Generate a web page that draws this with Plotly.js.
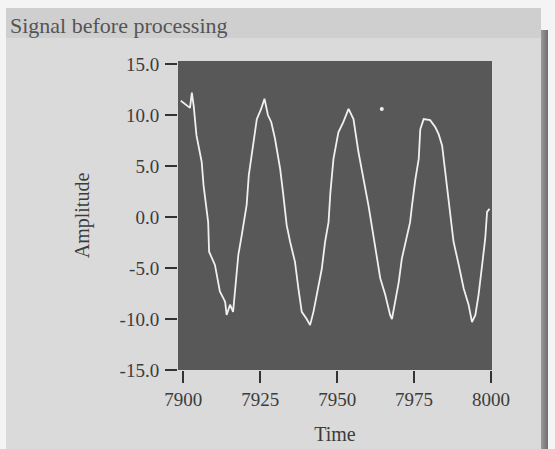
<!DOCTYPE html>
<html>
<head>
<meta charset="utf-8">
<script src="https://cdn.plot.ly/plotly-3.0.1.min.js"></script>
<style>
  html, body { margin: 0; padding: 0; background: #ffffff; }
  #wrap { position: relative; width: 555px; height: 449px; overflow: hidden; background: #f4f4f4; }
  #panel { position: absolute; left: 6px; top: 8px; width: 535px; height: 441px; background: #dadada; }
  #band { position: absolute; left: 6px; top: 8px; width: 535px; height: 30px; background: #cfcfcf; }
  #edge { position: absolute; left: 541px; top: 30px; width: 7px; height: 419px; background: linear-gradient(to right, #9a9a9a, #6e6e6e); }
  #chart { position: absolute; left: 0; top: 0; width: 555px; height: 449px; }
</style>
</head>
<body>
<div id="wrap">
  <div id="panel"></div>
  <div id="band"></div>
  <div id="edge"></div>
  <div id="chart"></div>
</div>
<script>
// Signal samples
const time = [7899.2, 7901.0, 7902.2, 7902.8, 7903.4, 7904.3, 7906.0, 7906.6, 7907.6, 7908.1,
  7908.4, 7910.3, 7911.9, 7913.6, 7914.1, 7915.2, 7916.2, 7916.8, 7917.9, 7919.0,
  7920.0, 7920.6, 7921.3, 7922.8, 7923.9, 7925.3, 7926.4, 7927.5, 7928.6, 7929.8,
  7931.5, 7932.5, 7933.6, 7934.7, 7936.3, 7937.4, 7938.5, 7940.1, 7941.2, 7942.3,
  7943.9, 7945.0, 7946.1, 7947.2, 7947.8, 7948.8, 7950.4, 7952.0, 7953.7, 7955.3,
  7956.9, 7958.6, 7960.2, 7961.6, 7962.4, 7964.0, 7965.6, 7967.2, 7967.8, 7968.9,
  7970.0, 7971.0, 7972.7, 7973.7, 7974.3, 7975.4, 7976.5, 7977.0, 7978.1, 7980.2,
  7981.9, 7983.0, 7984.1, 7985.1, 7986.2, 7987.3, 7987.8, 7989.5, 7991.1, 7992.7,
  7993.8, 7994.9, 7995.9, 7997.1, 7998.1, 7998.7, 7999.5];
const amplitude = [11.4, 11.0, 10.7, 12.2, 10.9, 8.0, 5.4, 3.1, 0.8, -0.5,
  -3.4, -4.7, -7.3, -8.3, -9.6, -8.6, -9.3, -7.0, -3.7, -1.8,
  0.2, 1.2, 4.1, 7.3, 9.6, 10.6, 11.6, 10.0, 9.3, 7.7,
  4.7, 2.2, -0.8, -2.4, -4.4, -7.0, -9.3, -10.0, -10.6, -9.3,
  -7.0, -5.1, -2.4, -0.5, 2.4, 5.7, 8.3, 9.3, 10.6, 9.6,
  6.4, 3.7, 1.1, -1.5, -3.1, -6.0, -7.6, -9.6, -10.0, -8.3,
  -6.4, -4.1, -1.8, -0.5, 1.1, 3.7, 5.7, 8.6, 9.6, 9.5,
  8.8, 8.1, 7.0, 4.4, 1.5, -1.5, -2.4, -4.7, -7.0, -8.6,
  -10.3, -9.6, -7.7, -4.7, -2.1, 0.5, 0.8];
const glitchTime = [7964.5];
const glitchAmp = [10.6];

const yTickVals = [-15, -10, -5, 0, 5, 10, 15];
const yTickText = ["-15.0", "-10.0", "-5.0", "0.0", "5.0", "10.0", "15.0"];
const xTickVals = [7900, 7925, 7950, 7975, 8000];
const xTickText = ["7900", "7925", "7950", "7975", "8000"];

const serif = "Liberation Serif, Times New Roman, serif";

const traces = [
  {
    x: time, y: amplitude, type: "scatter", mode: "lines",
    line: { color: "#f0f0f0", width: 1.8 },
    hoverinfo: "skip", showlegend: false
  },
  {
    x: glitchTime, y: glitchAmp, type: "scatter", mode: "markers",
    marker: { color: "#f0f0f0", size: 4 },
    hoverinfo: "skip", showlegend: false
  }
];

const layout = {
  width: 555, height: 449,
  margin: { l: 178, r: 63, t: 61, b: 79 },
  paper_bgcolor: "rgba(0,0,0,0)",
  plot_bgcolor: "#585858",
  font: { family: serif, color: "#3c3c3c", size: 19 },
  title: {
    text: "Signal before processing",
    x: 10 / 555, xref: "container", xanchor: "left",
    y: 1 - 25 / 449, yref: "container", yanchor: "middle",
    font: { family: serif, size: 22, color: "#555555" }
  },
  xaxis: {
    range: [7898.3, 8000.3],
    tickvals: xTickVals, ticktext: xTickText,
    ticks: "outside", ticklen: 12, tickwidth: 1.5, tickcolor: "#333333",
    showgrid: false, zeroline: false, showline: false,
    tickfont: { family: serif, size: 19, color: "#3c3c3c" },
    title: { text: "Time", standoff: 18, font: { family: serif, size: 20, color: "#3c3c3c" } },
    fixedrange: true
  },
  yaxis: {
    range: [-15, 15.3],
    tickvals: yTickVals, ticktext: yTickText,
    ticks: "outside", ticklen: 12, tickwidth: 1.5, tickcolor: "#333333",
    ticklabelstandoff: 2,
    showgrid: false, zeroline: false, showline: false,
    tickfont: { family: serif, size: 19, color: "#3c3c3c" },
    title: { text: "Amplitude", standoff: 24, font: { family: serif, size: 20, color: "#3c3c3c" } },
    fixedrange: true
  }
};

Plotly.newPlot("chart", traces, layout, { displayModeBar: false, staticPlot: true });
</script>
</body>
</html>
